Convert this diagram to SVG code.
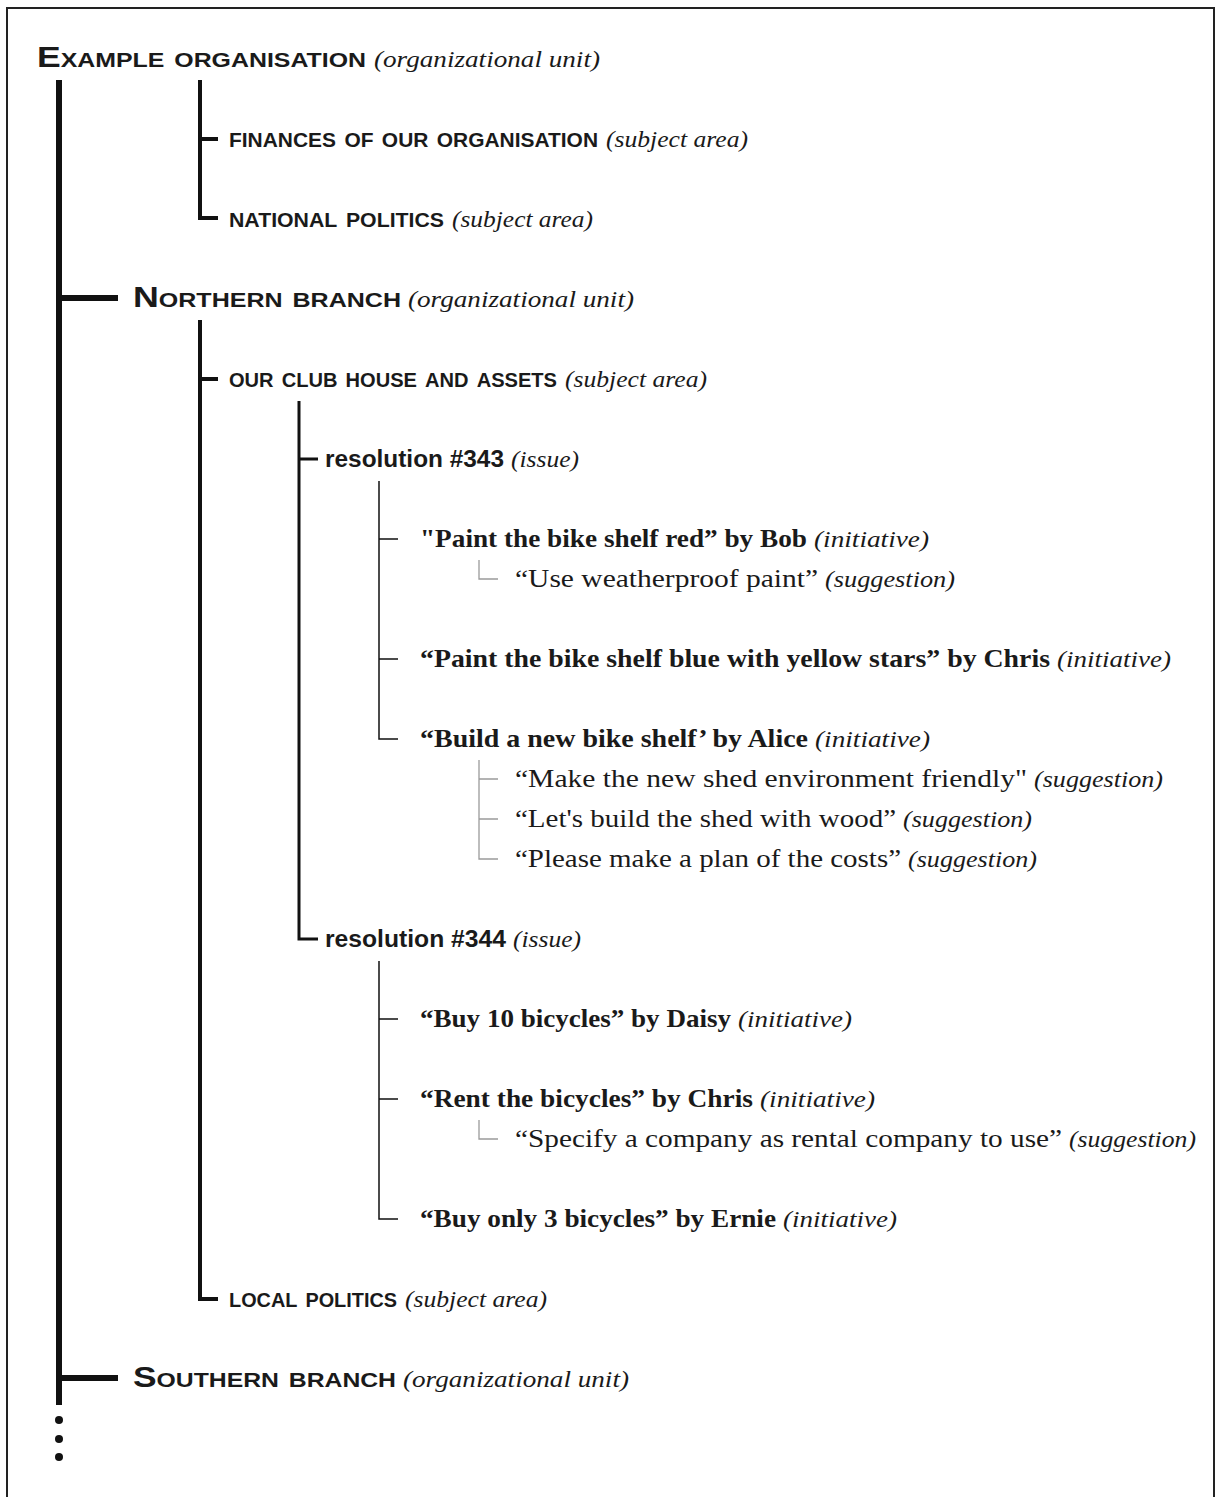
<svg xmlns="http://www.w3.org/2000/svg" width="1216" height="1497" viewBox="0 0 1216 1497">
<style>
.ou{font-family:"Liberation Sans",Arial,sans-serif;font-weight:bold;font-variant:small-caps;font-size:30px;fill:#1a1a1a}
.sa{font-family:"Liberation Sans",Arial,sans-serif;font-weight:bold;font-variant:small-caps;font-size:29px;fill:#1a1a1a}
.is{font-family:"Liberation Sans",Arial,sans-serif;font-weight:bold;font-size:23px;fill:#1a1a1a}
.in{font-family:"Liberation Serif","Times New Roman",serif;font-weight:bold;font-size:26px;fill:#1a1a1a}
.su{font-family:"Liberation Serif","Times New Roman",serif;font-size:25px;fill:#1a1a1a}
.ty{font-family:"Liberation Serif","Times New Roman",serif;font-style:italic;font-size:24px;fill:#1a1a1a}
.l1{stroke:#111;stroke-width:6;fill:none}
.l2{stroke:#111;stroke-width:4;fill:none}
.l3{stroke:#111;stroke-width:3;fill:none}
.l4{stroke:#111;stroke-width:1.5;fill:none}
.l5{stroke:#9a9a9a;stroke-width:1.3;fill:none}
</style>
<rect x="7" y="8" width="1207" height="1500" fill="#fff" stroke="#222" stroke-width="2"/>
<g id="connectors">
<path class="l1" d="M59 80V1405M59 298H118M59 1378H118"/>
<path class="l2" d="M200 80V218H218M200 139H218"/>
<path class="l2" d="M200 320V1299H218M200 379H218"/>
<path class="l3" d="M299 401V939H318M299 459H318"/>
<path class="l4" d="M379 481V739H398M379 539H398M379 659H398"/>
<path class="l4" d="M379 961V1219H398M379 1019H398M379 1099H398"/>
<path class="l5" d="M479 560V579H498"/>
<path class="l5" d="M479 760V859H498M479 779H498M479 819H498"/>
<path class="l5" d="M479 1120V1139H498"/>
<circle cx="59" cy="1420" r="4" fill="#111"/>
<circle cx="59" cy="1439" r="4" fill="#111"/>
<circle cx="59" cy="1457" r="4" fill="#111"/>
</g>
<g id="n-example"><text class="ou" x="37" y="67" textLength="329" lengthAdjust="spacingAndGlyphs">Example organisation</text><text class="ty" x="374" y="67" textLength="226" lengthAdjust="spacingAndGlyphs">(organizational unit)</text></g>
<g id="n-finances"><text class="sa" x="229" y="147" textLength="369" lengthAdjust="spacingAndGlyphs">finances of our organisation</text><text class="ty" x="606" y="147" textLength="142" lengthAdjust="spacingAndGlyphs">(subject area)</text></g>
<g id="n-national"><text class="sa" x="229" y="227" textLength="215" lengthAdjust="spacingAndGlyphs">national politics</text><text class="ty" x="452" y="227" textLength="141" lengthAdjust="spacingAndGlyphs">(subject area)</text></g>
<g id="n-northern"><text class="ou" x="133" y="307" textLength="268" lengthAdjust="spacingAndGlyphs">Northern branch</text><text class="ty" x="408" y="307" textLength="226" lengthAdjust="spacingAndGlyphs">(organizational unit)</text></g>
<g id="n-clubhouse"><text class="sa" x="229" y="387" textLength="328" lengthAdjust="spacingAndGlyphs">our club house and assets</text><text class="ty" x="565" y="387" textLength="142" lengthAdjust="spacingAndGlyphs">(subject area)</text></g>
<g id="n-res343"><text class="is" x="325" y="467" textLength="179" lengthAdjust="spacingAndGlyphs">resolution #343</text><text class="ty" x="511" y="467" textLength="68" lengthAdjust="spacingAndGlyphs">(issue)</text></g>
<g id="n-red"><text class="in" x="420" y="547" textLength="387" lengthAdjust="spacingAndGlyphs">"Paint the bike shelf red” by Bob</text><text class="ty" x="814" y="547" textLength="115" lengthAdjust="spacingAndGlyphs">(initiative)</text></g>
<g id="n-weather"><text class="su" x="515" y="587" textLength="303" lengthAdjust="spacingAndGlyphs">“Use weatherproof paint”</text><text class="ty" x="825" y="587" textLength="130" lengthAdjust="spacingAndGlyphs">(suggestion)</text></g>
<g id="n-blue"><text class="in" x="420" y="667" textLength="630" lengthAdjust="spacingAndGlyphs">“Paint the bike shelf blue with yellow stars” by Chris</text><text class="ty" x="1057" y="667" textLength="114" lengthAdjust="spacingAndGlyphs">(initiative)</text></g>
<g id="n-build"><text class="in" x="420" y="747" textLength="388" lengthAdjust="spacingAndGlyphs">“Build a new bike shelf’ by Alice</text><text class="ty" x="815" y="747" textLength="115" lengthAdjust="spacingAndGlyphs">(initiative)</text></g>
<g id="n-env"><text class="su" x="515" y="787" textLength="512" lengthAdjust="spacingAndGlyphs">“Make the new shed environment friendly"</text><text class="ty" x="1034" y="787" textLength="129" lengthAdjust="spacingAndGlyphs">(suggestion)</text></g>
<g id="n-wood"><text class="su" x="515" y="827" textLength="381" lengthAdjust="spacingAndGlyphs">“Let's build the shed with wood”</text><text class="ty" x="903" y="827" textLength="129" lengthAdjust="spacingAndGlyphs">(suggestion)</text></g>
<g id="n-costs"><text class="su" x="515" y="867" textLength="386" lengthAdjust="spacingAndGlyphs">“Please make a plan of the costs”</text><text class="ty" x="908" y="867" textLength="129" lengthAdjust="spacingAndGlyphs">(suggestion)</text></g>
<g id="n-res344"><text class="is" x="325" y="947" textLength="181" lengthAdjust="spacingAndGlyphs">resolution #344</text><text class="ty" x="513" y="947" textLength="68" lengthAdjust="spacingAndGlyphs">(issue)</text></g>
<g id="n-buy10"><text class="in" x="420" y="1027" textLength="311" lengthAdjust="spacingAndGlyphs">“Buy 10 bicycles” by Daisy</text><text class="ty" x="738" y="1027" textLength="114" lengthAdjust="spacingAndGlyphs">(initiative)</text></g>
<g id="n-rent"><text class="in" x="420" y="1107" textLength="333" lengthAdjust="spacingAndGlyphs">“Rent the bicycles” by Chris</text><text class="ty" x="760" y="1107" textLength="115" lengthAdjust="spacingAndGlyphs">(initiative)</text></g>
<g id="n-company"><text class="su" x="515" y="1147" textLength="547" lengthAdjust="spacingAndGlyphs">“Specify a company as rental company to use”</text><text class="ty" x="1069" y="1147" textLength="127" lengthAdjust="spacingAndGlyphs">(suggestion)</text></g>
<g id="n-buy3"><text class="in" x="420" y="1227" textLength="356" lengthAdjust="spacingAndGlyphs">“Buy only 3 bicycles” by Ernie</text><text class="ty" x="783" y="1227" textLength="114" lengthAdjust="spacingAndGlyphs">(initiative)</text></g>
<g id="n-local"><text class="sa" x="229" y="1307" textLength="168" lengthAdjust="spacingAndGlyphs">local politics</text><text class="ty" x="405" y="1307" textLength="142" lengthAdjust="spacingAndGlyphs">(subject area)</text></g>
<g id="n-southern"><text class="ou" x="133" y="1387" textLength="263" lengthAdjust="spacingAndGlyphs">Southern branch</text><text class="ty" x="403" y="1387" textLength="226" lengthAdjust="spacingAndGlyphs">(organizational unit)</text></g>
</svg>
